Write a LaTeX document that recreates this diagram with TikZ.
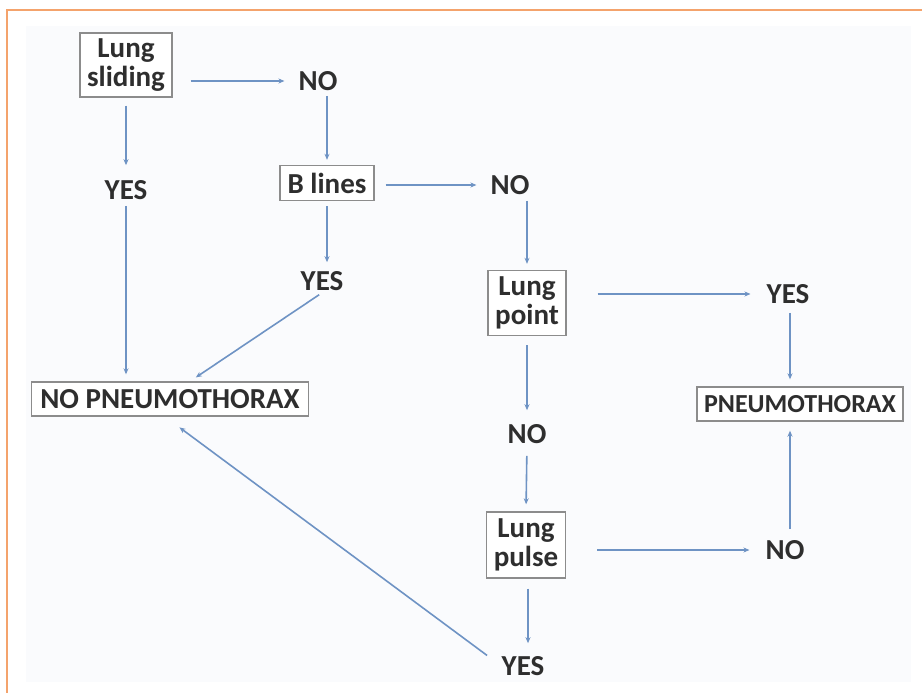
\documentclass[tikz,border=0pt]{standalone}
\usepackage{fontspec}
\setmainfont{Carlito}
\usetikzlibrary{calc,arrows.meta}
\definecolor{frameor}{HTML}{F4A36C}
\definecolor{bgpale}{HTML}{FAFBFD}
\definecolor{arrblue}{HTML}{6E93C4}
\definecolor{boxgray}{HTML}{8C8C8C}
\definecolor{txt}{HTML}{2E2E2E}
\tikzset{
  lbl/.style={inner sep=0pt, text=txt, font=\fontsize{29}{29}\selectfont\bfseries},
  qbox/.style={draw=boxgray, line width=1.4pt, fill=white, align=center, inner sep=0pt, text=txt, font=\fontsize{29}{29}\selectfont\bfseries},
  arr/.style={draw=arrblue, line width=1.6pt, -{Stealth[length=6pt,width=5pt]}}
}
\begin{document}
\begin{tikzpicture}[x=1pt,y=-1pt]
\useasboundingbox (0,0) rectangle (922,693);
\fill[bgpale] (26,26) rectangle (911,682);
\draw[frameor, line width=2pt] (7,693) -- (7,10) -- (922,10);

\node[qbox, minimum width=92pt, minimum height=64pt] (ls) at (126,65) {Lung\\sliding};
\node[lbl] (no1) at (318,81) {NO};
\node[lbl] (yes1) at (126,190) {YES};
\node[qbox, minimum width=94pt, minimum height=35pt] (bl) at (327,183) {B lines};
\node[lbl] (no2) at (510,185) {NO};
\node[lbl] (yes2) at (322,281) {YES};
\node[qbox, minimum width=78pt, minimum height=65pt] (lp) at (527,303) {Lung\\point};
\node[lbl] (yes3) at (788,294) {YES};
\node[qbox, minimum width=277pt, minimum height=34pt] (nop) at (170,399) {NO PNEUMOTHORAX};
\node[qbox, minimum width=206pt, minimum height=34pt, font=\fontsize{26}{28}\selectfont\bfseries] (pn) at (800,404) {PNEUMOTHORAX};
\node[lbl] (no3) at (527,434) {NO};
\node[qbox, minimum width=79pt, minimum height=66pt] (lpu) at (526,545) {Lung\\pulse};
\node[lbl] (no4) at (785,550) {NO};
\node[lbl] (yes4) at (523,666) {YES};

% connectors
\draw[arr, shorten <=18pt, shorten >=14pt] (ls.east |- no1.west) -- (no1.west);
\draw[arr, shorten <=8pt, shorten >=15pt] (ls.south) -- (yes1.north);
\draw[arr, shorten <=6pt, shorten >=7pt] (yes1.south) -- (yes1.south |- nop.north);
\draw[arr, shorten <=5pt, shorten >=5pt] (bl.north |- no1.south) -- (bl.north);
\draw[arr, shorten <=11pt, shorten >=14pt] (bl.east |- no2.west) -- (no2.west);
\draw[arr, shorten <=5pt, shorten >=9pt] (bl.south) -- (bl.south |- yes2.north);
\draw[arr, shorten <=7pt, shorten >=7pt] ([xshift=3pt]yes2.south) -- ([xshift=20pt]nop.north);
\draw[arr, shorten <=6pt, shorten >=6pt] (lp.north |- no2.south) -- (lp.north);
\draw[arr, shorten <=31pt, shorten >=16pt] (lp.east |- yes3.west) -- (yes3.west);
\draw[arr, shorten <=9pt, shorten >=7pt] ([xshift=2pt]yes3.south) -- ([xshift=2pt]yes3.south |- pn.north);
\draw[arr, shorten <=9pt, shorten >=14pt] (lp.south) -- (lp.south |- no3.north);
\draw[arr, shorten <=12pt, shorten >=7pt] (lp.south |- no3.south) -- (lpu.north);
\draw[arr, shorten <=31pt, shorten >=16pt] (lpu.east |- no4.west) -- (no4.west);
\draw[arr, shorten <=11pt, shorten >=9pt] ([xshift=5pt]no4.north) -- ([xshift=5pt]no4.north |- pn.south);
\draw[arr, shorten <=10pt, shorten >=13pt] ([xshift=2pt]lpu.south) -- ([xshift=2pt]lpu.south |- yes4.north);
\draw[arr, shorten <=8pt, shorten >=18pt] ([xshift=-8pt,yshift=-4pt]yes4.north west) -- ([xshift=-5pt]nop.south);
\end{tikzpicture}
\end{document}
